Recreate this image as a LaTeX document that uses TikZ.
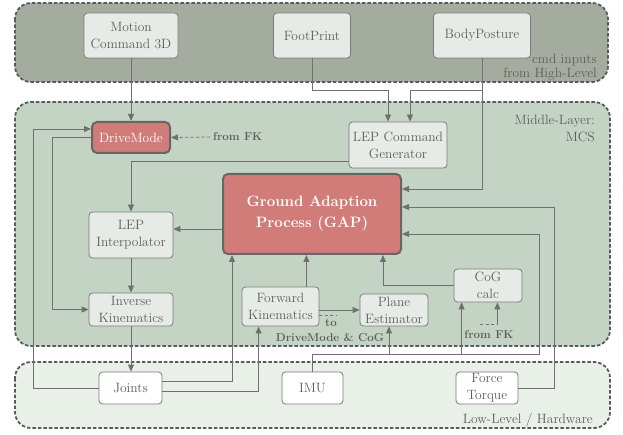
\documentclass[tikz,border=0pt]{standalone}
\usepackage{fontspec}
\usetikzlibrary{arrows.meta,calc}
\definecolor{topband}{HTML}{A4AC9F}
\definecolor{midband}{HTML}{C4D4C4}
\definecolor{lowband}{HTML}{E8F0E8}
\definecolor{bandline}{HTML}{5A5A5A}
\definecolor{boxline}{HTML}{7A7A7A}
\definecolor{boxfill}{HTML}{E7EBE7}
\definecolor{hotfill}{HTML}{D27C7A}
\definecolor{hotline}{HTML}{666666}
\definecolor{txt}{HTML}{5E5E5E}
\definecolor{wirec}{HTML}{707070}
\begin{document}
\begin{tikzpicture}[x=1pt,y=-1pt,
  band/.style={draw=bandline, line width=1.8pt, dash pattern=on 3.5pt off 2pt, rounded corners=16pt},
  box/.style={draw=boxline, line width=0.8pt, rounded corners=3.5pt, fill=boxfill, text=txt,
    font=\fontsize{13.5}{17}\selectfont, align=center, inner sep=0pt},
  lowbox/.style={box, fill=white},
  hot/.style={draw=hotline, line width=2pt, rounded corners=5pt, fill=hotfill, text=white,
    align=center, inner sep=0pt},
  arr/.style={draw=wirec, line width=0.8pt, -{Triangle[length=7pt,width=6pt]}},
  dashline/.style={draw=wirec, line width=0.8pt, dash pattern=on 3pt off 2.5pt},
  lbl/.style={text=txt, font=\bfseries\fontsize{11.5}{14}\selectfont, inner sep=0pt},
  bandlbl/.style={text=txt, align=right, inner sep=0pt}
]
\useasboundingbox (0,0) rectangle (623,435);
% bands
\path[band, fill=topband] (15,3) rectangle (608,82);
\path[band, fill=midband] (15,102) rectangle (610,346);
\path[band, fill=lowband] (15,362) rectangle (610,428);
\node[bandlbl, anchor=east, font=\fontsize{13.5}{13.5}\selectfont] (lbtop) at (597,67) {cmd inputs\\from High-Level};
\node[bandlbl, anchor=east, font=\fontsize{13.5}{17}\selectfont] (lbmid) at (595,128.5) {Middle-Layer:\\MCS};
\node[bandlbl, anchor=east, font=\fontsize{13.5}{17}\selectfont] (lblow) at (593,420) {Low-Level / Hardware};

% nodes
\node[box, minimum width=94pt, minimum height=45pt] (mc) at (131,35.5) {Motion\\Command 3D};
\node[box, minimum width=77pt, minimum height=45pt] (fp) at (312,35.5) {FootPrint};
\node[box, minimum width=97pt, minimum height=45pt] (bp) at (482,35.5) {BodyPosture};
\node[hot, minimum width=78pt, minimum height=31pt, font=\fontsize{13.5}{17}\selectfont] (dm) at (131,137.5) {DriveMode};
\node[box, minimum width=98pt, minimum height=46pt] (lepcg) at (398,145) {LEP Command\\Generator};
\node[hot, minimum width=178pt, minimum height=80pt, font=\bfseries\fontsize{15}{21}\selectfont] (gap) at (312,214) {Ground Adaption\\Process (GAP)};
\node[box, minimum width=84pt, minimum height=46pt] (lepi) at (131,235) {LEP\\Interpolator};
\node[box, minimum width=84pt, minimum height=33pt] (ik) at (131,309.5) {Inverse\\Kinematics};
\node[box, minimum width=77pt, minimum height=39pt] (fk) at (280.5,306.5) {Forward\\Kinematics};
\node[box, minimum width=68pt, minimum height=32pt] (pe) at (394,310) {Plane\\Estimator};
\node[box, minimum width=68pt, minimum height=33pt] (cog) at (488,285.5) {CoG\\calc};
\node[lowbox, minimum width=63pt, minimum height=32pt] (joints) at (130.5,388) {Joints};
\node[lowbox, minimum width=61pt, minimum height=32pt] (imu) at (312.5,388) {IMU};
\node[lowbox, minimum width=62pt, minimum height=32pt] (ft) at (487,388) {Force\\Torque};

% labels
\node[lbl, anchor=west] (fkl1) at (213,137) {from FK};
\node[lbl] (tol) at (331,323) {to};
\node[lbl] (dmcog) at (330,337.5) {DriveMode \& CoG};
\node[lbl] (fkl2) at (489,334.5) {from FK};

% helper coordinates
\coordinate (fpk) at (388,90);
\coordinate (bpk) at (410,90);
\coordinate (l1) at (33,0);
\coordinate (l2) at (52,0);
\coordinate (g1) at ([yshift=25pt]gap.east);
\coordinate (g2) at ([yshift=7pt]gap.east);
\coordinate (g3) at ([yshift=-20pt]gap.east);
\coordinate (gw) at ([yshift=-15pt]gap.west);
\coordinate (gb1) at ([xshift=10pt]gap.south west);
\coordinate (gb3) at ([xshift=-19pt]gap.south east);
\coordinate (fb) at ([xshift=17pt]fk.south west);
\coordinate (fkt) at ([xshift=-13pt]fk.north east);
\coordinate (fkd) at ([yshift=-8.5pt]fk.east);
\coordinate (fkde) at (337,315);
\coordinate (r2) at (539,354);
\coordinate (r3) at (554,388);
\coordinate (peb) at ([xshift=-5pt]pe.south);
\coordinate (cogb) at ([xshift=8pt]cog.south west);
\coordinate (cogb2) at ([xshift=-25pt]cog.south east);
\coordinate (fk2) at (480,324);

% connectors
\draw[arr] (mc) -- (dm);
\draw[arr] (fp.south) |- (fpk) -- (fpk |- lepcg.north);
\draw[arr] (bp.south) |- (bpk) -- (bpk |- lepcg.north);
\draw[arr] (bp.south) |- (g1);
\draw[arr] ([yshift=-16pt]lepcg.west) -| (lepi.north);
\draw[arr] (gw) -- (gw -| lepi.east);
\draw[arr] (lepi) -- (ik);
\draw[arr] (ik.south) -- (ik.south |- joints.north);
\draw[arr] (dm.west) -- (dm.west -| l2) |- (ik.west);
\draw[arr] (joints.west) -- (joints.west -| l1) |- ([yshift=8.5pt]dm.west);
\draw[arr] ([yshift=7pt]joints.east) -| (gb1);
\draw[arr] ([yshift=-3pt]joints.east) -| (fb);
\draw[arr] (fkt) -- (fkt |- gap.south);
\draw[arr] (fk.east |- pe.west) -- (pe.west);
\draw[dashline] (fkd) -- (fkde);
\draw[arr] (cog.west) -| (gb3);
\draw[arr] (imu.north) |- (r2) |- (g3);
\draw[arr] (peb |- r2) -- (peb);
\draw[arr] (cogb |- r2) -- (cogb);
\draw[arr] (ft.east) -- (r3) |- (g2);
\draw[arr, dash pattern=on 3pt off 2.5pt] ([xshift=-3pt]fkl1.west) -- (dm.east);
\draw[dashline] (fk2) -- (fk2 -| cogb2);
\draw[arr] (fk2 -| cogb2) -- (cogb2);
\end{tikzpicture}
\end{document}
